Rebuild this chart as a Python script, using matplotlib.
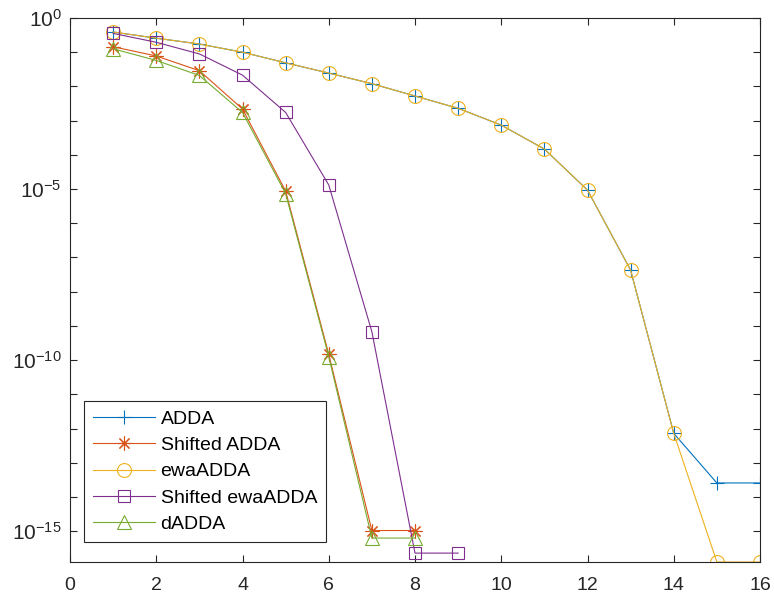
import numpy as np
import matplotlib
matplotlib.use("Agg")
import matplotlib.pyplot as plt
from matplotlib.ticker import FixedLocator, LogFormatterSciNotation, NullFormatter

plt.rcParams['font.family'] = ['Liberation Sans', 'DejaVu Sans']
plt.rcParams['mathtext.fontset'] = 'custom'
plt.rcParams['mathtext.rm'] = 'Liberation Sans'

# log10 of the error values
adda_x = [1, 2, 3, 4, 5, 6, 7, 8, 9, 10, 11, 12, 13, 14, 15, 16]
adda_log = [-0.41, -0.59, -0.76, -1.0, -1.31, -1.61, -1.92, -2.28, -2.64, -3.13,
            -3.83, -5.03, -7.37, -12.14, -13.59, -13.59]

sadda_x = [1, 2, 3, 4, 5, 6, 7, 8]
sadda_log = [-0.84, -1.11, -1.54, -2.66, -5.06, -9.83, -14.98, -14.98]

ewa_x = [1, 2, 3, 4, 5, 6, 7, 8, 9, 10, 11, 12, 13, 14, 15, 16]
ewa_log = [-0.41, -0.59, -0.76, -1.0, -1.31, -1.61, -1.92, -2.28, -2.64, -3.13,
           -3.83, -5.03, -7.37, -12.14, -15.9, -15.9]

sewa_x = [1, 2, 3, 4, 5, 6, 7, 8, 9]
sewa_log = [-0.45, -0.71, -1.05, -1.67, -2.76, -4.88, -9.17, -15.64, -15.64]

dadda_x = [1, 2, 3, 4, 5, 6, 7, 8]
dadda_log = [-0.9, -1.24, -1.68, -2.76, -5.13, -9.9, -15.2, -15.2]

labels = ["ADDA", "Shifted ADDA", "ewaADDA", "Shifted ewaADDA", "dADDA"]
colors = ["#0072BD", "#D95319", "#EDB120", "#7E2F8E", "#77AC30"]
markers = ["+", (8, 2, 0), "o", "s", "^"]
msizes = [10, 10, 10, 8, 10]

series = [(adda_x, adda_log), (sadda_x, sadda_log), (ewa_x, ewa_log),
          (sewa_x, sewa_log), (dadda_x, dadda_log)]

fig = plt.figure(figsize=(7.74, 6.01), dpi=100)
ax = fig.add_axes([70 / 774, 1 - 562 / 601, 690 / 774, 544 / 601])

for (x, lg), lab, c, m, ms in zip(series, labels, colors, markers, msizes):
    y = 10.0 ** np.array(lg)
    ax.semilogy(x, y, color=c, marker=m, markersize=ms, markerfacecolor='none',
                markeredgecolor=c, markeredgewidth=0.8, linewidth=0.8, label=lab)

ax.set_xlim(0, 16)
ax.set_ylim(10 ** -15.9, 1)
ax.set_xticks(range(0, 17, 2))
ax.yaxis.set_major_locator(FixedLocator([1e-15, 1e-10, 1e-5, 1e0]))
ax.yaxis.set_major_formatter(LogFormatterSciNotation())
ax.yaxis.set_minor_locator(FixedLocator([10.0 ** k for k in range(-15, 1)]))
ax.yaxis.set_minor_formatter(NullFormatter())

dark = "#262626"
for s in ax.spines.values():
    s.set_color(dark)
    s.set_linewidth(0.8)
ax.tick_params(which='both', direction='in', top=True, right=True, length=5,
               width=0.8, color=dark, labelcolor=dark, labelsize=14)
ax.tick_params(axis='y', labelsize=15, pad=6)
ax.tick_params(axis='x', pad=11)

leg = ax.legend(loc='lower left', bbox_to_anchor=(0.02, 0.037), borderaxespad=0,
                fontsize=14, fancybox=False, edgecolor=dark, framealpha=1,
                handlelength=3.2, handletextpad=0.3, labelspacing=0.45,
                borderpad=0.45)
leg.get_frame().set_linewidth(0.8)

fig.savefig("out.png", dpi=100)
